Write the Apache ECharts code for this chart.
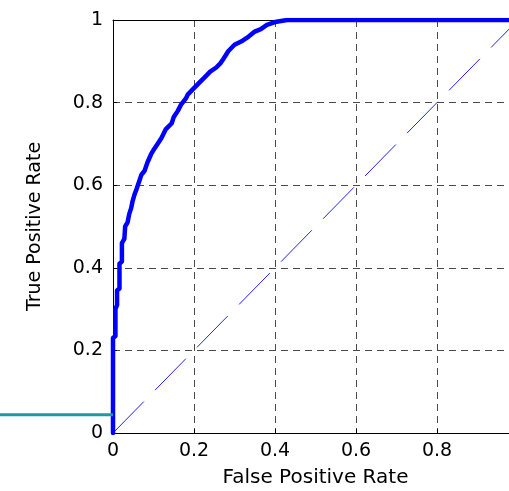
<!DOCTYPE html>
<html>
<head>
<meta charset="utf-8">
<script src="https://cdn.jsdelivr.net/npm/echarts@6/dist/echarts.min.js"></script>
<style>html,body{margin:0;padding:0;background:#fff}#c{width:509px;height:491px}</style>
</head>
<body>
<div id="c"></div>
<script>
// ROC curve (false positive rate, true positive rate)
var rocFPR = [0,0,0.006,0.006,0.01,0.01,0.016,0.016,0.022,0.022,0.028,0.03,0.036,0.04,0.045,0.048,0.054,0.058,0.065,0.07,0.078,0.085,0.094,0.1,0.11,0.12,0.13,0.145,0.15,0.16,0.168,0.18,0.185,0.2,0.215,0.225,0.24,0.255,0.265,0.272,0.285,0.3,0.32,0.335,0.35,0.365,0.38,0.4,0.43,1];
var rocTPR = [0,0.23,0.235,0.30,0.31,0.345,0.35,0.41,0.415,0.46,0.47,0.50,0.51,0.53,0.545,0.56,0.58,0.59,0.61,0.625,0.635,0.655,0.675,0.685,0.70,0.715,0.735,0.75,0.765,0.78,0.795,0.81,0.82,0.835,0.85,0.86,0.875,0.885,0.895,0.905,0.925,0.94,0.95,0.96,0.972,0.978,0.988,0.995,1,1];
// chance diagonal
var diagX = [0, 1];
var diagY = [0, 1];
// stray teal line left of the axes
var tealX = [0, 1];
var tealY = [0.044, 0.044];

function zip(a, b) { return a.map(function (v, i) { return [v, b[i]]; }); }

var font = 'DejaVu Sans';
var chart = echarts.init(document.getElementById('c'), null, {renderer: 'canvas'});
chart.setOption({
  animation: false,
  backgroundColor: '#ffffff',
  grid: [
    {left: 113, top: 20, width: 405, height: 413, containLabel: false, outerBoundsMode: 'none'},
    {left: 0, top: 20, width: 113, height: 413, containLabel: false, outerBoundsMode: 'none'}
  ],
  xAxis: [
    {
      gridIndex: 0, type: 'value', min: 0, max: 1, interval: 0.2,
      name: 'False Positive Rate', nameLocation: 'middle', nameGap: 35,
      nameTextStyle: {fontFamily: font, fontSize: 20, color: '#000'},
      axisLine: {show: true, lineStyle: {color: '#000', width: 1}},
      axisTick: {show: true, inside: true, length: 4, lineStyle: {color: '#000'}},
      axisLabel: {fontFamily: font, fontSize: 19, color: '#000', margin: 9,
        formatter: function (v) { return String(+v.toFixed(1)); }},
      splitLine: {show: true, lineStyle: {color: '#4a4a4a', type: [7, 5], width: 1}}
    },
    {
      gridIndex: 0, type: 'value', min: 0, max: 1, position: 'top',
      axisLine: {show: true, lineStyle: {color: '#000', width: 1}},
      axisTick: {show: false}, axisLabel: {show: false}, splitLine: {show: false}
    },
    {gridIndex: 1, type: 'value', min: 0, max: 1, show: false}
  ],
  yAxis: [
    {
      gridIndex: 0, type: 'value', min: 0, max: 1, interval: 0.2,
      name: 'True Positive Rate', nameLocation: 'middle', nameGap: 68,
      nameTextStyle: {fontFamily: font, fontSize: 19, color: '#000'},
      axisLine: {show: true, lineStyle: {color: '#000', width: 1}},
      axisTick: {show: true, inside: true, length: 4, lineStyle: {color: '#000'}},
      axisLabel: {fontFamily: font, fontSize: 19, color: '#000', margin: 10,
        formatter: function (v) { return String(+v.toFixed(1)); }},
      splitLine: {show: true, lineStyle: {color: '#4a4a4a', type: [7, 5], width: 1}}
    },
    {gridIndex: 1, type: 'value', min: 0, max: 1, show: false}
  ],
  series: [
    {
      type: 'line', xAxisIndex: 0, yAxisIndex: 0, data: zip(diagX, diagY),
      showSymbol: false, symbol: 'none',
      lineStyle: {color: '#2222ff', width: 1, type: [44, 16]}
    },
    {
      type: 'line', xAxisIndex: 0, yAxisIndex: 0, data: zip(rocFPR, rocTPR),
      showSymbol: false, symbol: 'none',
      lineStyle: {color: '#0000ff', width: 4.5, join: 'round', cap: 'round'}
    },
    {
      type: 'line', xAxisIndex: 2, yAxisIndex: 1, data: zip(tealX, tealY),
      showSymbol: false, symbol: 'none',
      lineStyle: {color: '#1a9c9c', width: 3}
    }
  ]
});
</script>
</body>
</html>
